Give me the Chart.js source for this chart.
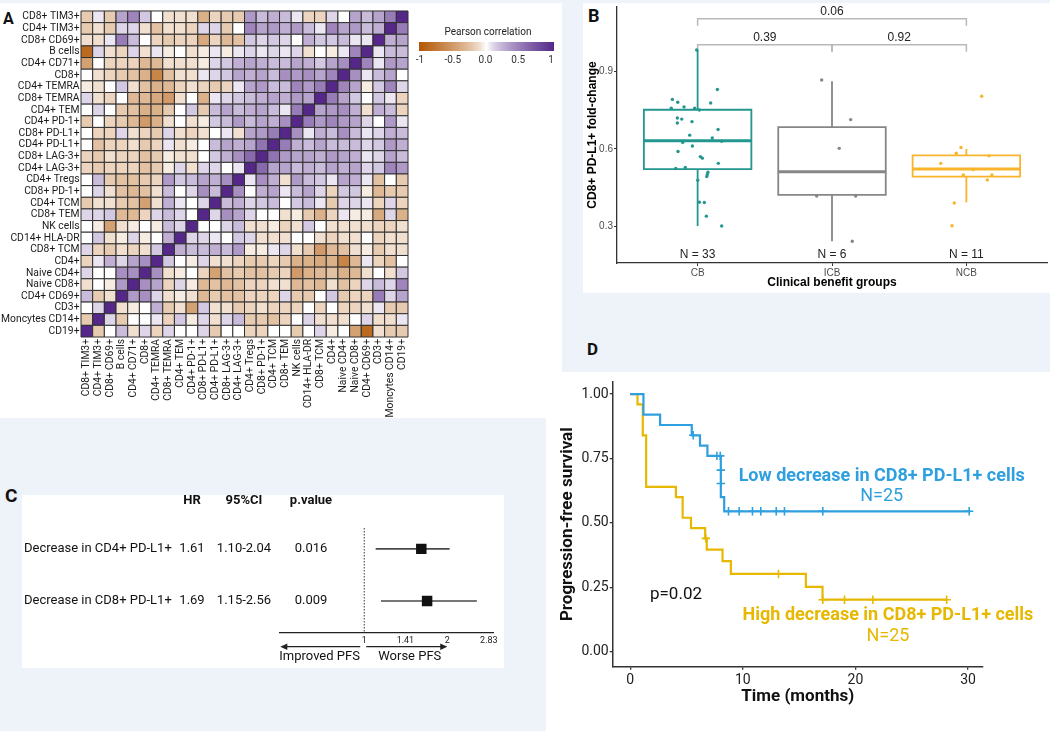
<!DOCTYPE html>
<html><head><meta charset="utf-8">
<script src="https://cdn.jsdelivr.net/npm/chart.js@4/dist/chart.umd.min.js"></script>
<style>
html,body{margin:0;padding:0;}
body{width:1050px;height:731px;background:#EEF2F9;position:relative;overflow:hidden;font-family:Roboto,"Liberation Sans",sans-serif;}
.panel{position:absolute;background:#fff;}
.lbl{position:absolute;font-weight:bold;color:#111;line-height:1;font-family:Roboto,sans-serif;}
.wrap{position:absolute;}
</style></head><body>
<div class="panel" style="left:0;top:3px;width:562px;height:415px"></div>
<div class="panel" style="left:583px;top:3px;width:467px;height:290px"></div>
<div class="panel" style="left:22px;top:495px;width:482px;height:173px"></div>
<div class="panel" style="left:546px;top:372px;width:504px;height:359px"></div>
<div class="lbl" style="left:3px;top:11px;font-size:16px">A</div>
<div class="lbl" style="left:588px;top:6.5px;font-size:18px">B</div>
<div class="lbl" style="left:5px;top:485.5px;font-size:19px">C</div>
<div class="lbl" style="left:587px;top:341px;font-size:17px">D</div>
<div class="wrap" style="left:0;top:0;width:562px;height:418px"><canvas id="cA"></canvas></div>
<div class="wrap" style="left:583px;top:0;width:467px;height:293px"><canvas id="cB"></canvas></div>
<div class="wrap" style="left:22px;top:495px;width:482px;height:173px"><canvas id="cC"></canvas></div>
<div class="wrap" style="left:546px;top:372px;width:504px;height:359px"><canvas id="cD"></canvas></div>
<script>
// ================= DATA =================
// Panel A: correlation heatmap
const corrColLabels = ['CD8+ TIM3+','CD4+ TIM3+','CD8+ CD69+','B cells','CD4+ CD71+','CD8+','CD4+ TEMRA','CD8+ TEMRA','CD4+ TEM','CD4+ PD-1+','CD8+ PD-L1+','CD4+ PD-L1+','CD8+ LAG-3+','CD4+ LAG-3+','CD4+ Tregs','CD8+ PD-1+','CD4+ TCM','CD8+ TEM','NK cells','CD14+ HLA-DR','CD8+ TCM','CD4+','Naive CD4+','Naive CD8+','CD4+ CD69+','CD3+','Moncytes CD14+','CD19+'];
const corrRowLabels = ['CD8+ TIM3+','CD4+ TIM3+','CD8+ CD69+','B cells','CD4+ CD71+','CD8+','CD4+ TEMRA','CD8+ TEMRA','CD4+ TEM','CD4+ PD-1+','CD8+ PD-L1+','CD4+ PD-L1+','CD8+ LAG-3+','CD4+ LAG-3+','CD4+ Tregs','CD8+ PD-1+','CD4+ TCM','CD8+ TEM','NK cells','CD14+ HLA-DR','CD8+ TCM','CD4+','Naive CD4+','Naive CD8+','CD4+ CD69+','CD3+','Moncytes CD14+','CD19+'];
// rows top->bottom, cells left of the (anti-)diagonal; the rest is symmetric
const corrTri = [
 [-0.2,0.05,-0.2,0.3,0.45,0.15,0,-0.1,-0.1,-0.1,-0.35,-0.15,-0.2,-0.2,0.35,0.2,0.25,0.2,0.05,-0.15,-0.15,0.1,0,0.3,0.2,0.3,0.5],
 [-0.2,-0.1,-0.2,0.1,0.1,-0.1,-0.25,-0.1,-0.1,-0.15,0.1,0.1,-0.2,0.0,0.45,0.3,0.35,0.25,0.35,0.2,0.05,0.45,0.3,0.35,0.2,0.25],
 [-0.1,-0.1,0.05,0.5,0.2,0.0,-0.15,-0.2,-0.15,-0.15,-0.4,-0.15,-0.3,-0.25,0.15,0.1,0.15,0.1,0.0,0.25,0.15,0.15,0.2,0.05,0.05],
 [-0.85,0.1,-0.1,-0.15,0.1,-0.1,0.05,-0.05,0.0,-0.1,-0.05,0.05,-0.05,0.05,0.1,0.05,0.1,0.05,0.1,-0.1,0.0,-0.05,0.05,0.45],
 [-0.45,0.0,-0.15,-0.15,-0.15,-0.3,-0.3,-0.1,-0.1,-0.1,-0.05,0.1,0.15,0.25,0.3,0.25,0.2,0.2,0.3,0.25,0.15,0.3,0.4],
 [0.0,-0.1,-0.15,-0.2,-0.25,-0.35,-0.65,-0.25,-0.1,-0.1,0.05,0.1,0.15,0.3,0.25,0.3,0.2,0.4,0.35,0.4,0.3,0.45],
 [-0.05,-0.1,0.0,0.15,-0.1,-0.25,-0.35,-0.3,-0.15,-0.1,-0.15,-0.2,-0.15,0.05,0.3,0.35,0.2,0.2,0.45,0.35,0.5],
 [0.1,-0.1,-0.15,0.0,-0.3,-0.3,-0.4,-0.5,-0.1,0.0,-0.35,0.05,0.1,0.15,0.2,0.25,0.3,0.25,0.35,0.3],
 [0.0,0.1,0.0,-0.2,-0.25,-0.35,-0.35,-0.2,0.0,0.15,-0.2,0.2,0.3,0.2,0.25,0.3,0.2,0.05,0.5],
 [-0.2,0.0,-0.15,-0.2,-0.3,-0.5,-0.35,-0.1,0.0,-0.1,-0.05,0.15,0.2,0.35,0.2,0.3,0.25,0.4],
 [0.0,-0.15,-0.15,0.1,-0.1,-0.15,-0.2,0.1,-0.1,-0.15,-0.1,0.0,0.05,-0.1,0.3,0.35,0.5],
 [0.0,-0.25,-0.15,-0.15,-0.1,-0.2,-0.15,0.05,-0.1,-0.05,0.0,0.2,0.3,0.25,0.3,0.55],
 [-0.15,-0.2,-0.1,-0.15,-0.15,-0.25,-0.2,-0.05,-0.1,-0.1,0.0,0.15,0.25,0.4,0.6],
 [-0.15,-0.2,-0.15,-0.15,-0.15,-0.25,-0.2,-0.05,0.1,-0.1,0.1,0.1,0.0,0.05],
 [0.0,0.2,-0.2,-0.25,-0.25,-0.2,-0.15,0.35,0.15,0.2,0.3,0.25,0.4],
 [0.0,0.1,-0.1,-0.25,-0.3,-0.25,-0.1,0.2,0.0,0.1,0.4,0.2],
 [-0.2,-0.1,-0.1,-0.2,-0.25,-0.45,-0.1,0.25,0.05,0.0,0.1],
 [0.1,0.1,0.15,-0.3,-0.3,-0.15,0.1,0.2,0.1,0.0],
 [0.0,-0.05,-0.45,-0.1,-0.05,0.0,-0.05,0.2,0.1],
 [0.0,0.15,-0.1,-0.05,0.1,-0.05,0.0,0.25],
 [0.1,-0.15,-0.2,-0.1,-0.15,-0.1,0.15],
 [-0.15,0.05,0.25,0.1,0.3,0.4],
 [0.1,0.0,0.0,0.4,0.4],
 [-0.1,0.0,-0.05,0.35],
 [0.2,-0.2,-0.1],
 [0.0,0.1],
 [-0.2],
 []
];
const corrLowColor = [179,88,6];
const corrHighColor = [84,39,136];
const legendTickValues = [-1,-0.5,0,0.5,1];
const legendTickLabels = ['-1','-0.5','0.0','0.5','1'];

// Panel B: box plots
const groups = ['CB','ICB','NCB'];
const groupN = [33,6,11];
const groupColors = ['#23968F','#868686','#F8B42A'];
const boxQ1 = [0.522,0.422,0.493];
const boxMedian = [0.631,0.512,0.522];
const boxQ3 = [0.751,0.684,0.575];
const whiskerLow = [0.302,0.243,0.393];
const whiskerHigh = [0.982,0.861,0.600];
const cbJitter = [-0.007,0.147,-0.188,-0.148,-0.101,-0.196,-0.022,0.013,0.097,-0.151,-0.118,-0.151,-0.042,0.152,-0.059,0.109,0.179,-0.111,-0.039,-0.146,0.02,0.035,0.154,-0.163,-0.092,0.077,0.072,0.068,0.001,0.013,0.05,0.065,0.179];
const cbValues = [0.982,0.829,0.791,0.780,0.762,0.757,0.757,0.750,0.777,0.719,0.715,0.700,0.705,0.675,0.653,0.642,0.629,0.625,0.611,0.590,0.570,0.564,0.544,0.524,0.528,0.510,0.501,0.493,0.479,0.394,0.393,0.340,0.302];
const icbJitter = [-0.077,0.139,0.054,-0.114,0.176,0.151];
const icbValues = [0.866,0.713,0.602,0.418,0.418,0.243];
const ncbJitter = [0.114,-0.04,-0.075,0.168,-0.191,-0.023,0.19,0.156,-0.09,-0.107,0.05];
const ncbValues = [0.803,0.605,0.583,0.573,0.544,0.499,0.499,0.480,0.391,0.303,0.52];
const compPairs = [[1,3],[1,2],[2,3]];
const compP = ['0.06','0.39','0.92'];
const compLevel = [1.103,1.002,1.002];
const nLabelLevel = 0.19;

// Panel C: forest plot
const forestHeaders = ['HR','95%CI','p.value'];
const forestLabels = ['Decrease in CD4+ PD-L1+','Decrease in CD8+ PD-L1+'];
const forestHR = [1.61,1.69];
const forestLow = [1.10,1.15];
const forestHigh = [2.04,2.56];
const forestCI = ['1.10-2.04','1.15-2.56'];
const forestP = ['0.016','0.009'];
const forestTicks = [1,1.41,2,2.83];
const forestTickLabels = ['1','1.41','2','2.83'];

// Panel D: Kaplan-Meier
const lowTimes = [0,1.18,2.66,5.47,6.2,6.86,8.05,8.35,30.2];
const lowSurv  = [1,0.92,0.88,0.84,0.80,0.76,0.60,0.545,0.545];
const lowCensorTimes = [5.6,7.7,8.0,8.05,8.05,8.73,9.68,10.86,11.6,12.97,13.7,17.1,30.1];
const lowCensorSurv  = [0.84,0.76,0.76,0.705,0.653,0.545,0.545,0.545,0.545,0.545,0.545,0.545,0.545];
const highTimes = [0,0.65,1.12,1.42,4.06,4.66,5.4,6.66,6.8,8.2,8.94,15.6,17.08,28.1];
const highSurv  = [1,0.96,0.84,0.64,0.60,0.52,0.48,0.44,0.396,0.352,0.302,0.252,0.202,0.202];
const highCensorTimes = [6.72,13.17,17.1,19.03,21.55,28.1];
const highCensorSurv  = [0.44,0.302,0.202,0.202,0.202,0.202];
const timeTicks = [0,10,20,30];
const survTicks = [0,0.25,0.5,0.75,1];
const kmColors = ['#2E9FDF','#E7B800'];
const noteTexts = ['Low decrease in CD8+ PD-L1+ cells','N=25','High decrease in CD8+ PD-L1+ cells','N=25','p=0.02'];
const noteX = [22.33,22.33,22.89,22.89,4.07];
const noteY = [0.679,0.602,0.139,0.061,0.220];
const noteColors = ['#2E9FDF','#2E9FDF','#E7B800','#E7B800','#111111'];
const noteBold = [true,false,true,false,false];

// ================= CHARTS =================
Chart.defaults.font.family = 'Roboto, "Liberation Sans", sans-serif';
Chart.defaults.animation = false;
Chart.defaults.events = [];
Chart.defaults.plugins.legend.display = false;
Chart.defaults.plugins.tooltip.enabled = false;
Chart.defaults.responsive = true;
Chart.defaults.maintainAspectRatio = false;

// ---- A ----
const NC = corrColLabels.length;
function corrValue(r, c) {
  const d = NC - 1 - r;
  if (c === d) return 1;
  if (c < d) return corrTri[r][c];
  return corrTri[NC - 1 - c][NC - 1 - r];
}
function corrColor(v) {
  const t = Math.max(-1, Math.min(1, v));
  const end = t < 0 ? corrLowColor : corrHighColor;
  const a = Math.pow(Math.abs(t), 0.72);
  return 'rgb(' + end.map(e => Math.round(255 + (e - 255) * a)).join(',') + ')';
}
const heatCells = [];
for (let r = 0; r < NC; r++) for (let c = 0; c < NC; c++) heatCells.push({x: c, y: NC - 1 - r, v: corrValue(r, c)});
function cellPx(chart) {
  const s = chart.scales && chart.scales.x;
  if (!s) return 8;
  const v = Math.abs(s.getPixelForValue(1) - s.getPixelForValue(0));
  return isFinite(v) && v > 1 ? v : 8;
}
const corrLegendPlugin = {
  id: 'corrLegend',
  afterDraw(chart) {
    const ctx = chart.ctx;
    const x0 = 419, x1 = 554, y0 = 42, y1 = 51;
    ctx.save();
    const g = ctx.createLinearGradient(x0, 0, x1, 0);
    for (let k = 0; k <= 20; k++) g.addColorStop(k / 20, corrColor(-1 + k / 10));
    ctx.fillStyle = g;
    ctx.fillRect(x0, y0, x1 - x0, y1 - y0);
    ctx.fillStyle = '#222';
    ctx.font = '10px Roboto';
    ctx.textAlign = 'center';
    ctx.textBaseline = 'middle';
    ctx.fillText('Pearson correlation', 488, 32);
    ctx.fillStyle = '#333';
    legendTickValues.forEach((v, i) => {
      const px = 420 + (v + 1) / 2 * 131;
      ctx.fillText(legendTickLabels[i], px, 60);
    });
    ctx.restore();
  }
};
new Chart(document.getElementById('cA'), {
  type: 'scatter',
  data: {datasets: [{
    data: heatCells,
    pointStyle: 'rect',
    pointRadius: ctx => cellPx(ctx.chart) / Math.SQRT2,
    pointBackgroundColor: ctx => ctx.raw ? corrColor(ctx.raw.v) : '#fff',
    pointBorderColor: '#303030',
    pointBorderWidth: 1,
    clip: false
  }]},
  options: {
    layout: {autoPadding: false, padding: {left: 0, top: 11, right: 154, bottom: 0}},
    scales: {
      x: {type: 'linear', min: -0.5, max: 27.5,
        grid: {display: false, drawTicks: false}, border: {display: false},
        afterBuildTicks: s => { s.ticks = corrColLabels.map((_, i) => ({value: i})); },
        ticks: {autoSkip: false, minRotation: 90, maxRotation: 90, padding: 2, color: '#1a1a1a',
          font: {size: 10.3, family: 'Roboto'}, callback: (v) => corrColLabels[v]},
        afterFit: s => { s.height = 81; }},
      y: {type: 'linear', min: -0.5, max: 27.5,
        grid: {display: false, drawTicks: false}, border: {display: false},
        afterBuildTicks: s => { s.ticks = corrRowLabels.map((_, i) => ({value: i})); },
        ticks: {autoSkip: false, padding: 1.5, color: '#1a1a1a',
          font: {size: 10.3, family: 'Roboto'}, callback: (v) => corrRowLabels[NC - 1 - v]},
        afterFit: s => { s.width = 81; }}
    }
  },
  plugins: [corrLegendPlugin]
});

// ---- B ----
const jitterSets = [[cbJitter, cbValues], [icbJitter, icbValues], [ncbJitter, ncbValues]];
const bPoints = [], bLines = [];
groups.forEach((g, i) => {
  const x = i + 1, col = groupColors[i], hw = 0.4;
  bPoints.push({data: jitterSets[i][0].map((j, k) => ({x: x + j, y: jitterSets[i][1][k]})),
    pointRadius: 1.7, pointBackgroundColor: col, pointBorderWidth: 0, showLine: false});
  const lineBase = {showLine: true, borderColor: col, pointRadius: 0, fill: false, borderJoinStyle: 'miter', borderCapStyle: 'butt'};
  bLines.push(Object.assign({}, lineBase, {borderWidth: 3, data: [{x: x - hw, y: boxMedian[i]}, {x: x + hw, y: boxMedian[i]}]}));
  bLines.push(Object.assign({}, lineBase, {borderWidth: 1.8, borderCapStyle: 'square',
    data: [{x: x - hw, y: boxQ1[i]}, {x: x + hw, y: boxQ1[i]}, {x: x + hw, y: boxQ3[i]}, {x: x - hw, y: boxQ3[i]}, {x: x - hw, y: boxQ1[i]}]}));
  bLines.push(Object.assign({}, lineBase, {borderWidth: 1.8, data: [{x: x, y: boxQ3[i]}, {x: x, y: whiskerHigh[i]}]}));
  bLines.push(Object.assign({}, lineBase, {borderWidth: 1.8, data: [{x: x, y: whiskerLow[i]}, {x: x, y: boxQ1[i]}]}));
});
const bracketTick = 0.027;
compPairs.forEach((p, k) => {
  const y = compLevel[k];
  bLines.push({showLine: true, borderColor: '#B8B8B8', borderWidth: 1.5, pointRadius: 0, fill: false,
    data: [{x: p[0], y: y - bracketTick}, {x: p[0], y: y}, {x: p[1], y: y}, {x: p[1], y: y - bracketTick}]});
});
const boxTextPlugin = {
  id: 'boxText',
  afterDatasetsDraw(chart) {
    const {ctx, scales: {x, y}} = chart;
    ctx.save();
    ctx.font = '12px "Liberation Sans"';
    ctx.fillStyle = '#222';
    ctx.textAlign = 'center';
    ctx.textBaseline = 'middle';
    groups.forEach((g, i) => ctx.fillText('N = ' + groupN[i], x.getPixelForValue(i + 1), y.getPixelForValue(nLabelLevel)));
    compPairs.forEach((p, k) => ctx.fillText(compP[k], x.getPixelForValue((p[0] + p[1]) / 2), y.getPixelForValue(compLevel[k]) - 7));
    ctx.restore();
  }
};
new Chart(document.getElementById('cB'), {
  type: 'scatter',
  data: {datasets: bPoints.concat(bLines)},
  options: {
    layout: {autoPadding: false, padding: {left: 0, top: 4, right: 3, bottom: 0}},
    scales: {
      x: {type: 'linear', min: 0.4, max: 3.6,
        afterBuildTicks: s => { s.ticks = groups.map((_, i) => ({value: i + 1})); },
        grid: {drawOnChartArea: false, drawTicks: true, tickLength: 3, color: '#333'},
        border: {display: true, color: '#333', width: 1.3},
        ticks: {padding: 1, color: '#4D4D4D', font: {size: 10, family: '"Liberation Sans"'}, callback: (v) => groups[v - 1]},
        title: {display: true, text: 'Clinical benefit groups', color: '#000', font: {size: 12, weight: 'bold', family: '"Liberation Sans"'}, padding: {top: 0, bottom: 2.8}},
        afterFit: s => { s.height = 30; }},
      y: {type: 'linear', min: 0.159, max: 1.148,
        afterBuildTicks: s => { s.ticks = [0.3, 0.6, 0.9].map(v => ({value: v})); },
        grid: {drawOnChartArea: false, drawTicks: true, tickLength: 3, color: '#333'},
        border: {display: true, color: '#333', width: 1.3},
        ticks: {padding: 1, color: '#4D4D4D', font: {size: 10, family: '"Liberation Sans"'}, callback: (v) => v.toFixed(1)},
        title: {display: true, text: 'CD8+ PD-L1+ fold-change', color: '#000', font: {size: 12, weight: 'bold', family: '"Liberation Sans"'}, padding: {top: 2, bottom: 0}},
        afterFit: s => { s.width = 34; }}
    }
  },
  plugins: [boxTextPlugin]
});

// ---- C ----
const cDatasets = [];
cDatasets.push({data: forestHR.map((h, i) => ({x: h, y: i})), pointStyle: 'rect', pointRadius: 7.4,
  pointBackgroundColor: '#111', pointBorderColor: '#111', pointBorderWidth: 0, showLine: false});
forestHR.forEach((h, i) => {
  cDatasets.push({data: [{x: forestLow[i], y: i}, {x: forestHigh[i], y: i}], showLine: true,
    borderColor: '#4a4a4a', borderWidth: 1.6, pointRadius: 0});
});
cDatasets.push({data: [{x: 1, y: -0.4}, {x: 1, y: 1.6}], showLine: true, borderColor: '#444',
  borderWidth: 1.1, borderDash: [1.5, 1.5], pointRadius: 0});
const forestColX = [170, 222, 289];
const forestPlugin = {
  id: 'forestTable',
  afterDraw(chart) {
    const {ctx, scales: {x, y}, chartArea} = chart;
    ctx.save();
    ctx.fillStyle = '#111';
    ctx.textBaseline = 'middle';
    ctx.textAlign = 'center';
    ctx.font = 'bold 13px Roboto';
    forestHeaders.forEach((h, i) => ctx.fillText(h, forestColX[i], 6));
    ctx.font = '13px Roboto';
    forestLabels.forEach((lab, i) => {
      const py = y.getPixelForValue(i);
      ctx.textAlign = 'left';
      ctx.fillText(lab, 2, py);
      ctx.textAlign = 'center';
      ctx.fillText(forestHR[i].toFixed(2), forestColX[0], py);
      ctx.fillText(forestCI[i], forestColX[1], py);
      ctx.fillText(forestP[i], forestColX[2], py);
    });
    const ay = chartArea.bottom + 14.4;
    const x1 = x.getPixelForValue(1), x2 = x.getPixelForValue(2), xl = chartArea.left + 1;
    ctx.strokeStyle = '#222'; ctx.fillStyle = '#222'; ctx.lineWidth = 1.2;
    ctx.beginPath(); ctx.moveTo(x1 - 4, ay); ctx.lineTo(xl + 5, ay); ctx.stroke();
    ctx.beginPath(); ctx.moveTo(xl, ay); ctx.lineTo(xl + 7, ay - 3.2); ctx.lineTo(xl + 7, ay + 3.2); ctx.closePath(); ctx.fill();
    ctx.beginPath(); ctx.moveTo(x1 + 2, ay); ctx.lineTo(x2 - 5, ay); ctx.stroke();
    ctx.beginPath(); ctx.moveTo(x2, ay); ctx.lineTo(x2 - 7, ay - 3.2); ctx.lineTo(x2 - 7, ay + 3.2); ctx.closePath(); ctx.fill();
    ctx.fillStyle = '#111';
    ctx.font = '13px Roboto';
    ctx.textAlign = 'left';
    ctx.fillText('Improved PFS', chartArea.left, chartArea.bottom + 24);
    ctx.textAlign = 'center';
    ctx.fillText('Worse PFS', (x1 + x2) / 2 + 4, chartArea.bottom + 24);
    ctx.restore();
  }
};
new Chart(document.getElementById('cC'), {
  type: 'scatter',
  data: {datasets: cDatasets},
  options: {
    layout: {autoPadding: false, padding: {left: 257.3, top: 33, right: 10.7, bottom: 0}},
    scales: {
      x: {type: 'logarithmic', min: 0.492, max: 2.937,
        afterBuildTicks: s => { s.ticks = forestTicks.map(v => ({value: v})); },
        grid: {display: false, drawTicks: false},
        border: {display: true, color: '#222', width: 1.2},
        ticks: {autoSkip: false, maxRotation: 0, padding: 3.5, color: '#222', font: {size: 9, family: 'Roboto'},
          callback: (v, i) => forestTickLabels[i]},
        afterFit: s => { s.height = 35.7; }},
      y: {type: 'linear', min: -0.4, max: 1.6, reverse: true, display: false}
    }
  },
  plugins: [forestPlugin]
});

// ---- D ----
const kmNotePlugin = {
  id: 'kmNotes',
  afterDraw(chart) {
    const {ctx, scales: {x, y}} = chart;
    ctx.save();
    ctx.textAlign = 'center';
    ctx.textBaseline = 'middle';
    noteTexts.forEach((t, i) => {
      ctx.font = (noteBold[i] ? 'bold ' : '') + (i === 4 ? '17px' : '18px') + ' Roboto';
      ctx.fillStyle = noteColors[i];
      ctx.fillText(t, x.getPixelForValue(noteX[i]), y.getPixelForValue(noteY[i]));
    });
    ctx.restore();
  }
};
const censorStyle = {pointStyle: 'cross', pointRadius: 4.2, pointBorderWidth: 1.6, showLine: false};
new Chart(document.getElementById('cD'), {
  type: 'scatter',
  data: {datasets: [
    Object.assign({data: lowCensorTimes.map((t, i) => ({x: t, y: lowCensorSurv[i]})), pointBorderColor: kmColors[0]}, censorStyle),
    Object.assign({data: highCensorTimes.map((t, i) => ({x: t, y: highCensorSurv[i]})), pointBorderColor: kmColors[1]}, censorStyle),
    {data: lowTimes.map((t, i) => ({x: t, y: lowSurv[i]})), showLine: true, stepped: 'before', borderColor: kmColors[0], borderWidth: 2.2, pointRadius: 0},
    {data: highTimes.map((t, i) => ({x: t, y: highSurv[i]})), showLine: true, stepped: 'before', borderColor: kmColors[1], borderWidth: 2.2, pointRadius: 0}
  ]},
  options: {
    layout: {autoPadding: false, padding: {left: 0, top: 9.7, right: 67.3, bottom: 0}},
    scales: {
      x: {type: 'linear', min: -1.55, max: 31.3,
        afterBuildTicks: s => { s.ticks = timeTicks.map(v => ({value: v})); },
        grid: {drawOnChartArea: false, drawTicks: true, tickLength: 3, color: '#333', lineWidth: 1.3},
        border: {display: true, color: '#333', width: 1.5},
        ticks: {padding: 2, color: '#222', font: {size: 14, family: 'Roboto'}, callback: (v) => String(v)},
        title: {display: true, text: 'Time (months)', color: '#111', font: {size: 17, weight: 'bold', family: 'Roboto'}, padding: {top: 0, bottom: 24.1}},
        afterFit: s => { s.height = 64.3; }},
      y: {type: 'linear', min: -0.058, max: 1.048,
        afterBuildTicks: s => { s.ticks = survTicks.map(v => ({value: v})); },
        grid: {drawOnChartArea: false, drawTicks: true, tickLength: 3, color: '#333', lineWidth: 1.3},
        border: {display: true, color: '#333', width: 1.5},
        ticks: {padding: 1, color: '#222', font: {size: 14, family: 'Roboto'}, callback: (v) => v.toFixed(2)},
        title: {display: true, text: 'Progression-free survival', color: '#111', font: {size: 17, weight: 'bold', family: 'Roboto'}, padding: {top: 11.5, bottom: 0}},
        afterFit: s => { s.width = 66.7; }}
    }
  },
  plugins: [kmNotePlugin]
});
</script>
</body></html>
